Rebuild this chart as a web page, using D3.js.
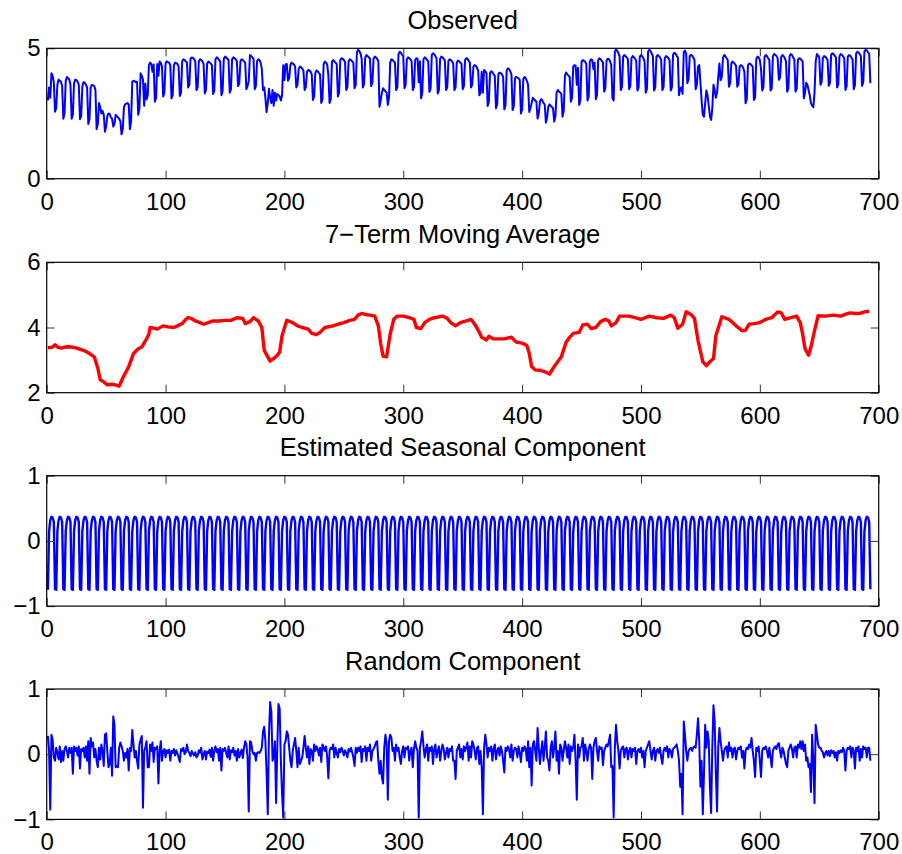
<!DOCTYPE html>
<html><head><meta charset="utf-8">
<script src="https://cdn.jsdelivr.net/npm/d3@7"></script>
<style>
body{margin:0;background:#fff;}
text{font-family:"Liberation Sans",Arial,Helvetica,sans-serif;fill:#000;}
</style>
</head><body>
<svg id="chart" width="902" height="854"></svg>
<script>
// ---------------- DATA ----------------
const xTickValues = [0,100,200,300,400,500,600,700];
const panelTitles = ["Observed","7\u2212Term Moving Average","Estimated Seasonal Component","Random Component"];
const yDomains = [[0,5],[2,6],[-1,1],[-1,1]];
const yTickValues = [[0,5],[2,4,6],[-1,0,1],[-1,0,1]];

// observed series, days 1..693 (one line per week)
const observed = [
3.0,3.5,3.1,4.04,3.95,3.7,
2.57,2.7,3.6,3.8,3.75,3.72,3.55,
2.3,2.5,3.75,3.9,3.85,3.8,3.6,
2.3,2.45,3.65,3.8,3.78,3.72,3.6,
2.28,2.4,3.55,3.7,3.68,3.6,3.5,
2.1,2.3,3.5,3.6,3.58,3.55,3.4,
1.9,2.1,2.9,2.75,2.5,2.6,2.45,
1.8,2.0,2.4,2.5,2.48,2.35,2.3,
2.0,2.1,2.45,2.4,2.35,2.3,2.2,
1.7,1.9,2.75,2.85,2.88,2.9,2.85,
1.9,2.2,3.72,3.76,3.74,3.7,3.72,
2.45,2.7,4.04,3.95,3.8,2.8,3.65,
3.04,3.2,4.36,4.45,4.4,4.1,4.38,
2.95,3.1,4.4,3.95,4.49,4.45,4.3,
3.15,3.3,4.42,4.5,4.47,4.45,4.35,
3.08,3.2,4.35,4.45,4.43,4.4,4.3,
3.17,3.3,4.5,4.58,4.55,4.5,4.45,
3.5,3.6,4.6,4.65,4.63,4.58,4.5,
3.4,3.5,4.5,4.58,4.55,4.5,4.4,
3.27,3.4,4.42,4.49,4.46,4.42,4.35,
3.25,3.38,4.58,4.65,4.62,4.55,4.5,
3.2,3.35,4.6,4.68,4.65,4.6,4.55,
3.3,3.42,4.58,4.65,4.62,4.58,4.5,
3.55,3.65,4.5,4.58,4.55,4.5,4.45,
3.43,3.55,3.75,4.74,4.7,4.65,4.6,
3.43,3.55,4.5,4.58,4.55,4.45,4.2,
3.4,3.5,3.1,2.55,2.9,3.45,3.1,
2.9,3.4,2.8,3.3,3.0,3.25,3.2,
3.15,3.0,3.2,4.35,3.78,4.38,4.4,
3.76,3.85,4.35,4.45,4.42,4.38,4.3,
3.5,3.6,4.2,4.3,4.28,4.22,4.15,
3.4,3.5,4.1,4.17,4.15,4.1,4.0,
3.02,3.15,4.05,4.15,4.12,4.05,4.0,
2.9,3.05,4.4,4.49,4.45,4.38,3.95,
2.9,3.05,4.48,4.55,4.5,4.45,4.4,
3.15,3.3,4.55,4.62,4.6,4.55,4.48,
3.4,3.5,4.5,4.58,4.55,4.5,4.45,
3.47,3.6,4.85,4.94,4.9,4.8,4.6,
3.5,3.62,4.65,4.74,4.7,4.65,4.6,
3.55,3.68,4.6,4.68,4.65,4.6,4.5,
2.76,3.0,3.3,3.47,3.4,3.35,3.3,
2.83,3.1,4.45,4.58,4.55,4.5,4.45,
3.4,3.5,4.78,4.87,4.82,4.75,4.7,
3.47,3.6,4.58,4.65,4.62,4.58,4.5,
3.4,3.52,4.55,4.62,4.6,3.7,4.5,
3.08,3.3,4.58,4.65,4.62,4.55,4.5,
3.33,3.45,4.75,4.81,4.78,4.7,4.62,
3.27,3.4,4.6,4.68,4.65,4.6,4.52,
3.4,3.5,4.52,4.58,4.55,4.5,4.42,
3.4,3.5,4.45,4.53,4.5,4.45,4.4,
3.43,3.55,4.55,4.62,4.6,4.52,4.45,
3.5,3.6,4.3,4.36,4.33,4.25,4.15,
3.2,3.3,4.1,3.3,4.17,4.12,4.05,
2.79,2.95,4.05,4.12,4.08,4.0,3.95,
2.7,2.85,4.0,4.07,4.05,4.0,3.9,
2.66,2.8,4.15,4.23,4.2,4.12,4.0,
2.63,2.78,3.85,3.91,3.88,3.85,3.78,
2.5,2.65,3.82,3.9,3.85,3.75,3.6,
2.56,2.7,2.9,3.1,3.05,3.0,2.95,
2.31,2.5,2.95,3.05,3.0,2.9,2.85,
2.15,2.35,2.75,2.85,2.8,2.75,2.7,
2.19,2.4,3.3,3.4,3.35,3.3,3.25,
2.38,2.6,3.95,4.07,4.0,3.95,3.9,
2.95,3.1,4.3,4.36,4.33,3.6,4.25,
2.83,3.0,4.48,4.55,4.52,4.48,4.4,
3.0,3.15,4.5,4.58,4.55,4.2,4.45,
3.05,3.2,4.55,4.62,4.58,4.52,4.45,
3.34,3.45,4.52,4.6,4.58,4.5,4.35,
3.08,3.0,4.85,4.96,4.9,4.82,4.7,
3.4,3.52,4.68,4.74,4.7,4.65,4.58,
3.43,3.55,4.62,4.7,4.66,4.6,4.52,
3.38,3.5,4.68,4.74,4.7,4.62,4.5,
3.3,3.45,4.88,4.94,4.9,4.8,4.7,
3.38,3.5,4.68,4.74,4.7,4.65,4.55,
3.4,3.52,4.62,4.7,4.68,4.62,4.55,
3.38,3.5,4.75,4.83,4.8,4.72,4.65,
3.2,3.45,3.5,3.25,4.85,4.91,4.8,
3.66,3.8,4.7,4.75,4.72,4.65,4.55,
3.43,3.6,4.3,4.36,3.7,3.0,2.45,
2.38,2.9,3.38,3.2,2.8,2.4,2.25,
2.7,3.6,3.4,3.1,3.3,3.9,4.42,
3.78,3.9,4.65,4.74,4.7,4.62,4.55,
3.53,3.65,4.42,4.49,4.45,4.4,4.32,
3.53,3.62,4.3,4.36,4.33,4.25,4.1,
2.89,3.05,4.35,4.42,4.4,4.35,4.3,
3.02,3.1,4.6,4.68,4.65,4.55,4.2,
3.38,3.5,4.68,4.74,4.7,4.62,4.55,
3.38,3.45,4.7,4.78,4.75,4.7,4.62,
3.79,3.88,4.68,4.74,4.7,4.62,4.5,
3.34,3.45,4.7,4.78,4.75,4.65,4.58,
3.34,3.45,4.55,4.62,4.6,4.55,4.5,
3.08,3.3,3.68,3.6,3.4,3.2,2.9,
2.8,2.74,3.3,4.5,4.78,4.72,4.65,
3.6,3.7,4.62,4.7,4.68,4.62,4.55,
3.56,3.68,4.75,4.81,4.78,4.72,4.65,
3.5,3.62,4.7,4.78,4.75,4.7,4.62,
3.4,3.55,4.68,4.74,4.72,4.65,4.58,
3.43,3.58,4.8,4.87,4.84,4.78,4.7,
3.56,3.7,4.88,4.94,4.92,4.85,4.78,
3.66
];

// 7-term moving average, read at these days
const trendDays = [1,5,7,9,12,17,21,25,31,36,40,43,45,48,51,54,57,61,64,69,73,77,80,84,86,87,90,93,98,102,107,110,114,117,119,122,125,129,132,136,140,145,150,155,160,165,167,171,174,178,181,183,186,188,191,194,196,198,202,207,211,215,220,223,227,230,234,241,245,250,255,259,262,265,268,272,276,279,281,283,286,289,292,295,300,305,309,311,315,318,322,326,333,337,340,344,348,353,357,361,364,366,370,372,376,385,391,395,400,404,406,408,411,416,420,423,426,429,433,437,440,443,448,451,455,458,462,466,470,473,475,479,482,490,495,500,507,513,519,525,528,531,535,538,542,545,548,552,555,558,561,563,568,574,580,585,588,591,595,600,605,610,615,618,621,626,631,634,636,638,641,643,646,649,655,662,668,673,676,680,684,688,692];
const trendValues = [3.38,3.4,3.47,3.4,3.37,3.41,3.4,3.37,3.3,3.2,3.1,2.75,2.4,2.33,2.24,2.26,2.25,2.2,2.45,2.8,3.2,3.35,3.4,3.65,3.8,4.0,3.98,3.95,4.05,4.02,4.0,4.05,4.12,4.25,4.3,4.27,4.2,4.15,4.1,4.15,4.2,4.2,4.22,4.22,4.3,4.28,4.12,4.18,4.3,4.2,4.0,3.3,3.1,2.97,3.05,3.15,3.25,3.75,4.22,4.15,4.05,4.0,3.95,3.82,3.78,3.85,4.0,4.05,4.1,4.15,4.22,4.25,4.38,4.43,4.4,4.38,4.35,4.05,3.5,3.12,3.1,3.8,4.25,4.35,4.35,4.3,4.25,4.0,3.97,4.15,4.25,4.3,4.35,4.28,4.15,4.05,4.15,4.2,4.25,4.05,3.85,3.7,3.62,3.73,3.65,3.65,3.7,3.55,3.52,3.45,3.2,2.8,2.7,2.68,2.63,2.57,2.75,2.9,3.1,3.55,3.7,3.82,3.85,4.08,4.1,3.97,4.0,4.18,4.25,4.2,4.05,4.15,4.35,4.35,4.3,4.25,4.35,4.3,4.28,4.38,4.3,3.98,4.1,4.48,4.4,4.28,3.6,2.95,2.83,2.95,3.05,3.75,4.33,4.25,4.05,3.9,3.92,4.1,4.12,4.15,4.25,4.3,4.48,4.45,4.25,4.3,4.35,4.15,3.8,3.35,3.15,3.4,3.9,4.36,4.35,4.38,4.35,4.42,4.45,4.43,4.43,4.48,4.5];

// estimated seasonal component: one value per weekday (day mod 7)
const seasonalPattern = [-0.74,-0.75,0.15,0.32,0.37,0.36,0.29];

// random component, days 1..693 (one line per week)
const randomComponent = [
0.28,0.05,-0.85,0.3,0.22,-0.05,
-0.1,0.1,0.02,-0.08,0.12,-0.12,0.05,
-0.1,0.08,0.12,0.05,-0.05,0.1,0.02,
0.1,-0.3,0.12,0.05,0.1,-0.02,0.12,
-0.22,0.08,0.05,0.1,-0.05,0.12,-0.1,
0.2,-0.3,0.25,0.12,0.18,-0.05,0.08,
-0.1,-0.2,0.1,-0.08,0.15,0.05,-0.18,
0.3,0.32,0.05,-0.2,-0.15,0.1,-0.33,
0.58,0.45,-0.2,-0.18,-0.2,0.1,0.18,
0.12,0.05,-0.1,0.02,-0.05,0.08,-0.25,
0.1,0.05,0.37,0.15,-0.05,0.05,-0.1,
-0.22,0.15,0.22,0.28,-0.82,0.05,0.1,
0.2,-0.2,-0.2,0.15,0.05,0.18,-0.12,
0.1,0.08,0.12,-0.45,0.05,0.2,-0.1,
0.05,0.08,-0.05,0.06,0.02,0.07,-0.1,
0.05,0.02,0.08,-0.02,0.06,0.01,-0.05,
-0.12,0.08,0.05,0.1,0.0,0.03,0.15,
0.05,0.02,-0.03,0.05,0.01,-0.02,0.03,
-0.05,-0.02,0.06,0.02,0.1,-0.08,0.0,
0.05,-0.08,0.04,0.02,0.07,-0.04,0.1,
-0.1,0.05,0.12,0.03,0.08,-0.1,0.1,
-0.25,0.08,0.05,0.1,0.02,-0.05,0.12,
-0.08,0.06,0.03,0.1,-0.02,0.05,-0.1,
0.08,-0.05,0.02,0.07,-0.06,0.1,0.2,
0.15,-0.05,-0.88,0.2,0.18,0.05,0.0,
0.02,-0.1,0.02,0.03,0.02,0.05,0.1,
0.35,0.42,0.2,-0.3,-0.92,0.3,0.8,
0.65,-0.1,-0.05,0.2,-0.75,0.1,0.77,
0.7,-0.1,-0.6,-0.97,0.15,0.2,0.35,
0.3,0.1,-0.1,-0.2,0.05,0.15,0.25,
0.05,-0.2,0.1,-0.15,-0.1,-0.05,0.1,
0.28,0.1,-0.05,0.12,-0.15,0.08,0.05,
-0.1,0.15,0.05,0.12,0.08,-0.02,0.1,
-0.12,0.15,0.1,0.05,0.12,-0.05,-0.37,
0.05,0.1,0.08,0.15,-0.05,0.1,0.02,
-0.05,0.08,0.03,0.1,0.05,-0.02,0.06,
0.02,-0.05,0.08,0.04,0.1,0.03,-0.05,
-0.18,0.1,0.02,0.1,0.05,0.12,-0.12,
0.08,0.05,0.12,-0.1,0.1,0.05,0.15,
-0.1,0.05,0.08,0.12,0.18,0.2,-0.1,
-0.3,-0.1,-0.35,-0.45,0.1,0.3,0.15,
-0.7,0.2,0.3,0.25,0.05,0.1,-0.1,
0.15,0.05,0.1,-0.05,-0.15,0.05,0.12,
-0.05,0.1,0.08,0.12,-0.1,0.05,0.1,
-0.2,0.08,0.2,0.1,0.05,-0.97,0.1,
0.2,0.35,0.12,-0.05,0.08,0.15,-0.1,
0.1,0.05,0.12,-0.15,0.08,0.15,-0.05,
0.05,0.12,-0.1,0.05,0.15,0.08,-0.08,
0.02,0.1,-0.05,0.08,0.05,0.12,-0.1,
-0.1,-0.38,0.05,0.1,0.15,-0.05,0.08,
-0.08,0.12,0.05,0.1,0.18,-0.1,0.12,
-0.05,0.2,0.15,0.05,-0.08,0.1,0.12,
-0.15,0.05,-0.2,-0.92,0.1,0.3,0.15,
-0.05,0.1,0.05,0.12,-0.1,0.08,0.15,
-0.08,0.05,0.1,-0.02,0.12,0.05,-0.1,
-0.28,0.1,0.05,0.12,0.08,-0.05,0.15,
-0.1,0.05,0.1,0.08,-0.05,0.12,0.02,
-0.12,0.1,0.05,0.12,0.08,-0.1,0.2,
-0.2,0.1,-0.48,0.15,0.2,0.05,-0.1,
0.4,0.1,-0.15,0.05,0.2,-0.1,0.1,
0.35,-0.05,-0.1,-0.25,0.1,0.2,-0.05,
0.1,0.35,-0.1,0.05,-0.3,0.15,0.1,
-0.1,0.05,0.2,0.1,-0.05,0.15,-0.15,
0.12,0.05,0.1,0.3,-0.1,-0.7,0.15,
-0.05,0.1,0.12,0.25,-0.1,0.15,0.05,
-0.1,0.08,0.15,0.1,-0.38,0.1,0.2,
0.25,0.05,-0.1,0.12,0.08,0.1,-0.17,
0.05,0.1,0.15,0.12,0.2,0.3,-0.2,
-0.18,-0.97,0.1,0.45,0.2,0.05,-0.22,
0.05,0.1,0.12,-0.05,0.08,0.1,-0.08,
0.05,0.1,-0.05,0.08,0.05,0.1,-0.15,
0.05,0.08,0.03,0.1,-0.05,0.05,-0.2,
0.05,0.1,0.15,0.2,0.05,-0.08,0.05,
0.1,-0.1,0.05,0.08,0.02,0.1,-0.05,
-0.15,0.05,0.1,0.05,0.12,-0.05,0.08,
0.05,-0.05,0.08,0.1,0.12,0.15,0.05,
-0.1,-0.5,-0.3,-0.92,0.5,0.3,0.05,
-0.1,0.05,0.08,0.1,0.05,0.1,0.12,
0.1,0.3,0.55,0.2,-0.5,-0.1,-0.92,
-0.3,0.45,0.1,0.35,0.2,-0.5,-0.9,
0.1,0.75,0.5,-0.3,-0.88,0.1,0.4,
0.2,0.05,-0.1,0.05,0.1,0.12,-0.05,
0.18,0.05,0.1,-0.05,0.08,0.1,-0.08,
0.05,0.1,0.08,0.12,-0.05,0.05,-0.22,
0.05,0.1,0.08,0.15,0.1,0.25,0.05,
-0.1,-0.35,0.1,0.05,0.12,-0.1,-0.35,
0.05,0.1,0.08,0.12,0.05,-0.05,0.1,
-0.05,-0.2,0.05,0.1,0.12,0.08,0.15,
0.17,0.05,-0.05,0.1,0.05,-0.05,-0.15,
-0.2,0.05,0.1,0.15,0.08,-0.05,0.1,
0.12,-0.05,0.15,0.1,0.2,0.08,0.2,
0.05,0.15,-0.1,-0.05,-0.2,-0.15,-0.58,
0.3,-0.1,-0.75,0.45,0.3,0.15,0.1,
0.1,0.05,0.03,-0.05,0.02,0.05,-0.02,
0.05,-0.03,0.06,0.02,0.05,-0.05,0.03,
-0.1,0.05,0.02,0.06,0.03,0.1,0.05,
-0.25,0.05,0.1,0.08,0.12,-0.05,0.1,
0.05,-0.22,0.1,0.05,0.12,-0.1,0.08,
-0.05,0.12,0.08,0.1,-0.05,0.1,0.1,
-0.1
];

// ---------------- CHART ----------------
const svg = d3.select("#chart");
const left = 46.7, right = 878.7, panelH = 130.4;
const panelTops = [48.3, 262.3, 475.7, 689];

const x = d3.scaleLinear().domain([0,700]).range([left,right]);

const seriesList = [
  observed.map((v,i)=>[i+1, v]),
  trendDays.map((d,i)=>[d, trendValues[i]]),
  observed.map((v,i)=>[i+1, seasonalPattern[(i+1)%7]]),
  randomComponent.map((v,i)=>[i+1, v])
];
const colors = ["#0000ff","#ff0000","#0000ff","#0000ff"];
const widths = [2, 3.4, 2.4, 2];

panelTops.forEach((top, p) => {
  const y = d3.scaleLinear().domain(yDomains[p]).range([top+panelH, top]);
  const g = svg.append("g");

  // data line
  g.append("path")
    .datum(seriesList[p])
    .attr("fill","none")
    .attr("stroke",colors[p])
    .attr("stroke-width",widths[p])
    .attr("stroke-linejoin","round")
    .attr("d", d3.line().x(d=>x(d[0])).y(d=>y(d[1])));

  const fmt = d3.format("d");
  const axB = g.append("g").attr("transform",`translate(0,${top+panelH})`)
    .call(d3.axisBottom(x).tickValues(xTickValues).tickFormat(fmt).tickSizeInner(-8).tickSizeOuter(0).tickPadding(14));
  const axT = g.append("g").attr("transform",`translate(0,${top})`)
    .call(d3.axisTop(x).tickValues(xTickValues).tickFormat("").tickSizeInner(-8).tickSizeOuter(0));
  const axL = g.append("g").attr("transform",`translate(${left},0)`)
    .call(d3.axisLeft(y).tickValues(yTickValues[p]).tickFormat(fmt).tickSizeInner(-8).tickSizeOuter(0).tickPadding(6));
  const axR = g.append("g").attr("transform",`translate(${right},0)`)
    .call(d3.axisRight(y).tickValues(yTickValues[p]).tickFormat("").tickSizeInner(-8).tickSizeOuter(0));
  [axB,axT,axL,axR].forEach(a=>{
    a.select(".domain").remove();
    a.selectAll(".tick line").attr("stroke","#333").attr("stroke-width",1);
    a.selectAll("text").style("font-size","24px").attr("fill","#000");
  });

  // frame
  g.append("rect").attr("x",left).attr("y",top).attr("width",right-left).attr("height",panelH)
    .attr("fill","none").attr("stroke","#000").attr("stroke-width",1.2);

  // title
  g.append("text").attr("x",(left+right)/2).attr("y",top-19.5)
    .attr("text-anchor","middle").style("font-size","25.5px").text(panelTitles[p]);
});
</script>
</body></html>
